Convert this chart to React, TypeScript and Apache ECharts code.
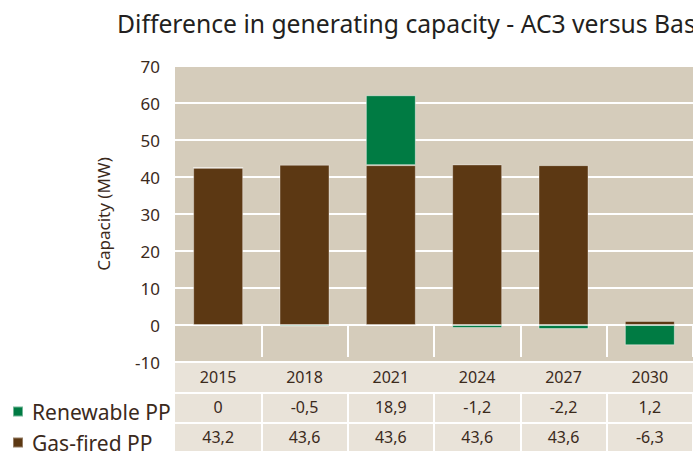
import React, { useEffect, useRef } from "react";
import * as echarts from "echarts";

const years = ["2015", "2018", "2021", "2024", "2027", "2030"];
const gasValues = [42.5, 43.3, 43.2, 43.4, 43.2, 1.1];
const renewableValues = [0, -0.4, 18.9, -0.8, -1.1, -5.5];
const renewableLabels = ["0", "-0,5", "18,9", "-1,2", "-2,2", "1,2"];
const gasLabels = ["43,2", "43,6", "43,6", "43,6", "43,6", "-6,3"];
const seriesNames = ["Renewable PP", "Gas-fired PP"];
const yTicks = { min: -10, max: 70, interval: 10 };

const FONT = "Noto Sans";
const TXT = "#3b2a1c";
const GREEN = "#007b43";
const BROWN = "#5c3813";

export default function App() {
  const ref = useRef<HTMLDivElement>(null);
  useEffect(() => {
    const chart = echarts.init(ref.current!, undefined, { renderer: "svg" });
    const gridLeft = 175;
    const gridRight = -7;
    const gridTop = 66;
    const gridBottom = 89;
    const plotBottomY = 451 - gridBottom;
    const rowH = 30;
    const tableAxis = (data: string[], offset: number) => ({
      type: "category",
      data,
      gridIndex: 0,
      position: "bottom",
      offset,
      boundaryGap: true,
      axisLine: { show: false },
      axisTick: {
        show: true,
        length: rowH + 2,
        lineStyle: { color: "#ffffff", width: 2 },
        interval: (i: number) => i !== 0,
      },
      axisLabel: {
        show: true,
        fontFamily: FONT,
        fontSize: 16,
        color: TXT,
        margin: 7,
        interval: 0,
      },
      z: 5,
    });
    const legendFor = (name: string, top: number) => ({
      orient: "vertical",
      left: 7,
      top,
      itemWidth: 10,
      itemHeight: 10,
      icon: "rect",
      data: [name],
      textStyle: { fontFamily: FONT, fontSize: 21, color: TXT, padding: [0, 0, 0, 4] },
    });
    chart.setOption({
      animation: false,
      textStyle: { fontFamily: FONT },
      title: {
        text: "Difference in generating capacity - AC3 versus Base",
        left: 112,
        top: 6,
        textStyle: { fontFamily: FONT, fontSize: 24.7, fontWeight: "normal", color: "#231f20" },
      },
      grid: {
        left: gridLeft,
        right: gridRight,
        top: gridTop,
        bottom: gridBottom,
        show: true,
        backgroundColor: "#d5ccbb",
        borderWidth: 0,
      },
      legend: [legendFor(seriesNames[0], 396), legendFor(seriesNames[1], 427)],
      xAxis: [
        tableAxis(years, 0),
        tableAxis(renewableLabels, rowH),
        tableAxis(gasLabels, rowH * 2),
      ],
      yAxis: {
        type: "value",
        min: yTicks.min,
        max: yTicks.max,
        interval: yTicks.interval,
        name: "Capacity (MW)",
        nameLocation: "middle",
        nameGap: 63,
        nameTextStyle: { fontFamily: FONT, fontSize: 17, color: TXT },
        axisLine: { show: false },
        axisTick: { show: false },
        axisLabel: { fontFamily: FONT, fontSize: 17, color: TXT, margin: 15 },
        splitLine: { show: true, lineStyle: { color: "#ffffff", width: 2 } },
      },
      series: [
        {
          name: seriesNames[1],
          type: "bar",
          stack: "cap",
          xAxisIndex: 0,
          barWidth: 50,
          data: gasValues,
          itemStyle: { color: BROWN, borderColor: "rgba(255,255,255,0.35)", borderWidth: 1 },
        },
        {
          name: seriesNames[0],
          type: "bar",
          stack: "cap",
          xAxisIndex: 0,
          barWidth: 50,
          data: renewableValues,
          itemStyle: { color: GREEN, borderColor: "rgba(255,255,255,0.45)", borderWidth: 1 },
        },
      ],
      graphic: [
        {
          type: "rect",
          z: -10,
          shape: { x: gridLeft, y: plotBottomY, width: 693 - gridLeft, height: 451 - plotBottomY },
          style: { fill: "#e9e3d9" },
        },
        {
          type: "line",
          z: 10,
          shape: { x1: gridLeft, y1: plotBottomY + rowH + 1, x2: 693, y2: plotBottomY + rowH + 1 },
          style: { stroke: "#ffffff", lineWidth: 2 },
        },
        {
          type: "line",
          z: 10,
          shape: { x1: gridLeft, y1: plotBottomY + rowH * 2 + 1, x2: 693, y2: plotBottomY + rowH * 2 + 1 },
          style: { stroke: "#ffffff", lineWidth: 2 },
        },
      ],
    });
    return () => chart.dispose();
  }, []);
  return (
    <div
      ref={ref}
      style={{ position: "fixed", left: 0, top: 0, width: 693, height: 451, background: "#ffffff" }}
    />
  );
}
